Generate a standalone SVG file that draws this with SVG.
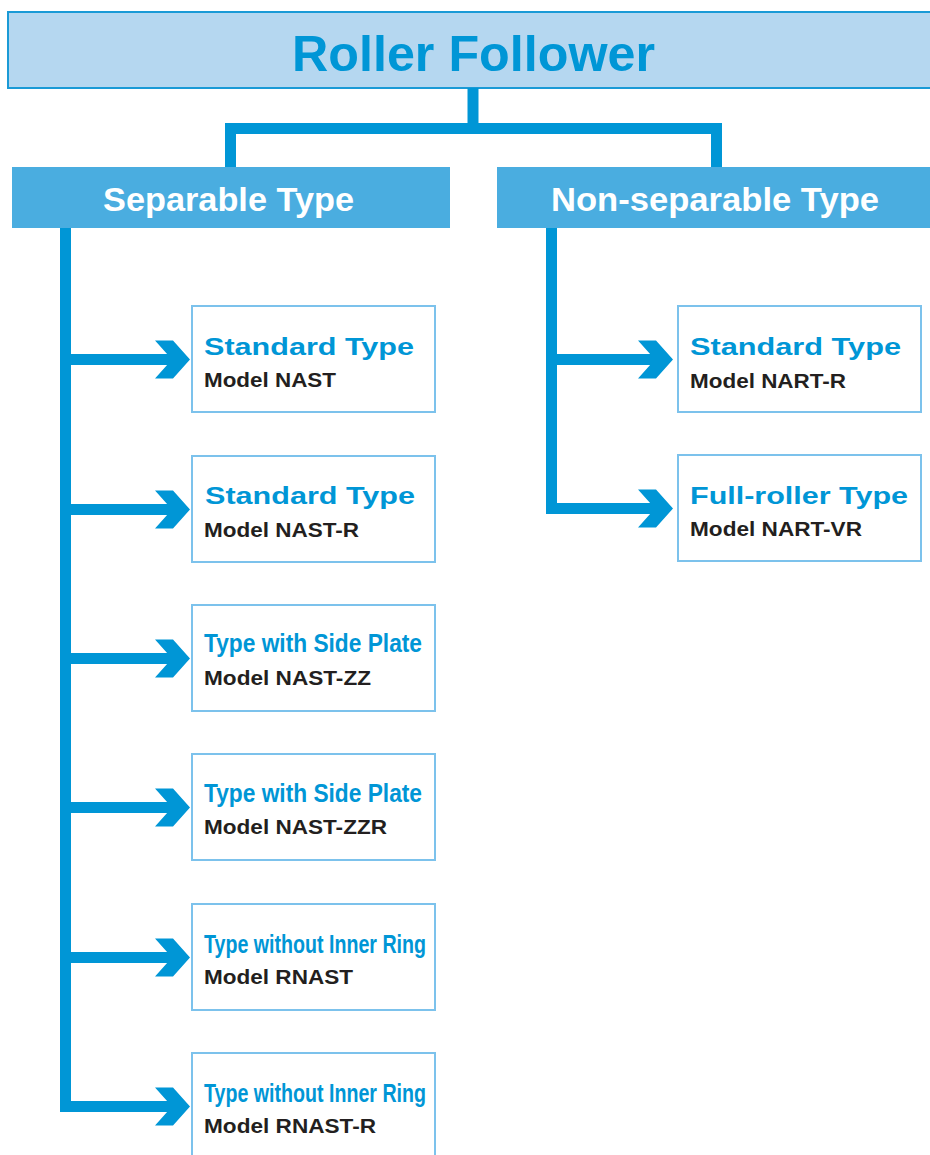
<svg xmlns="http://www.w3.org/2000/svg" width="930" height="1155" viewBox="0 0 930 1155">
<style>
.conn{fill:none;stroke:#0096d6;stroke-width:11;stroke-linejoin:miter;stroke-linecap:butt}
.chev{fill:#0096d6}
.leaf{fill:#fff;stroke:#7cc2ec;stroke-width:2}
.cat{fill:#4aade0}
.t1{font-family:"Liberation Sans",Arial,sans-serif;font-weight:bold;fill:#0096d6;font-size:23px}
.t1c{font-family:"Liberation Sans",Arial,sans-serif;font-weight:bold;fill:#0096d6;font-size:26px}
.t2{font-family:"Liberation Sans",Arial,sans-serif;font-weight:bold;fill:#231f20;font-size:21px}
.cattx{font-family:"Liberation Sans",Arial,sans-serif;font-weight:bold;fill:#fff;font-size:34px}
</style>
<defs>
<polygon id="chev" points="-35,-19 -17,-19 0,0 -17,19 -35,19 -18,0"/>
</defs>
<g id="root">
<rect x="8" y="12" width="930" height="76" fill="#b5d7f0" stroke="#1a9ad6" stroke-width="2"/>
<text x="292" y="70.5" font-family="Liberation Sans, Arial, sans-serif" font-weight="bold" font-size="50" fill="#0096d6" textLength="363" lengthAdjust="spacingAndGlyphs">Roller Follower</text>
</g>
<g id="connectors">
<path class="conn" d="M473 88 V128.5"/>
<path class="conn" d="M230.5 168 V128.5 H716.5 V168"/>
<path class="conn" d="M65.5 228 V1106.5 H175"/>
<path class="conn" d="M65.5 359.5 H175"/>
<path class="conn" d="M65.5 509.5 H175"/>
<path class="conn" d="M65.5 658.5 H175"/>
<path class="conn" d="M65.5 807.5 H175"/>
<path class="conn" d="M65.5 957.5 H175"/>
<path class="conn" d="M551.5 228 V508.5 H658"/>
<path class="conn" d="M551.5 359.5 H658"/>
<use href="#chev" class="chev" x="190" y="359.5"/>
<use href="#chev" class="chev" x="190" y="509.5"/>
<use href="#chev" class="chev" x="190" y="658.5"/>
<use href="#chev" class="chev" x="190" y="807.5"/>
<use href="#chev" class="chev" x="190" y="957.5"/>
<use href="#chev" class="chev" x="190" y="1106.5"/>
<use href="#chev" class="chev" x="673" y="359.5"/>
<use href="#chev" class="chev" x="673" y="508.5"/>
</g>
<g id="separable">
<rect class="cat" x="12" y="167" width="438" height="61"/>
<text class="cattx" x="103" y="211" textLength="251" lengthAdjust="spacingAndGlyphs">Separable Type</text>
</g>
<g id="nonseparable">
<rect class="cat" x="497" y="167" width="440" height="61"/>
<text class="cattx" x="551" y="211" textLength="328" lengthAdjust="spacingAndGlyphs">Non-separable Type</text>
</g>
<g id="s1">
<rect class="leaf" x="192" y="306" width="243" height="106"/>
<text class="t1" x="204" y="354.5" textLength="210" lengthAdjust="spacingAndGlyphs">Standard Type</text>
<text class="t2" x="204" y="387" textLength="132" lengthAdjust="spacingAndGlyphs">Model NAST</text>
</g>
<g id="s2">
<rect class="leaf" x="192" y="456" width="243" height="106"/>
<text class="t1" x="205" y="504" textLength="210" lengthAdjust="spacingAndGlyphs">Standard Type</text>
<text class="t2" x="204" y="536.5" textLength="155" lengthAdjust="spacingAndGlyphs">Model NAST-R</text>
</g>
<g id="s3">
<rect class="leaf" x="192" y="605" width="243" height="106"/>
<text class="t1c" x="204" y="652" textLength="218" lengthAdjust="spacingAndGlyphs">Type with Side Plate</text>
<text class="t2" x="204" y="684.5" textLength="167" lengthAdjust="spacingAndGlyphs">Model NAST-ZZ</text>
</g>
<g id="s4">
<rect class="leaf" x="192" y="754" width="243" height="106"/>
<text class="t1c" x="204" y="801.5" textLength="218" lengthAdjust="spacingAndGlyphs">Type with Side Plate</text>
<text class="t2" x="204" y="834" textLength="183" lengthAdjust="spacingAndGlyphs">Model NAST-ZZR</text>
</g>
<g id="s5">
<rect class="leaf" x="192" y="904" width="243" height="106"/>
<text class="t1c" x="204" y="952.5" textLength="222" lengthAdjust="spacingAndGlyphs">Type without Inner Ring</text>
<text class="t2" x="204" y="983.5" textLength="149" lengthAdjust="spacingAndGlyphs">Model RNAST</text>
</g>
<g id="s6">
<rect class="leaf" x="192" y="1053" width="243" height="110"/>
<text class="t1c" x="204" y="1101.5" textLength="222" lengthAdjust="spacingAndGlyphs">Type without Inner Ring</text>
<text class="t2" x="204" y="1133" textLength="172" lengthAdjust="spacingAndGlyphs">Model RNAST-R</text>
</g>
<g id="n1">
<rect class="leaf" x="678" y="306" width="243" height="106"/>
<text class="t1" x="690" y="355" textLength="211" lengthAdjust="spacingAndGlyphs">Standard Type</text>
<text class="t2" x="690" y="387.5" textLength="156" lengthAdjust="spacingAndGlyphs">Model NART-R</text>
</g>
<g id="n2">
<rect class="leaf" x="678" y="455" width="243" height="106"/>
<text class="t1" x="690" y="504" textLength="218" lengthAdjust="spacingAndGlyphs">Full-roller Type</text>
<text class="t2" x="690" y="535.5" textLength="172" lengthAdjust="spacingAndGlyphs">Model NART-VR</text>
</g>
</svg>
